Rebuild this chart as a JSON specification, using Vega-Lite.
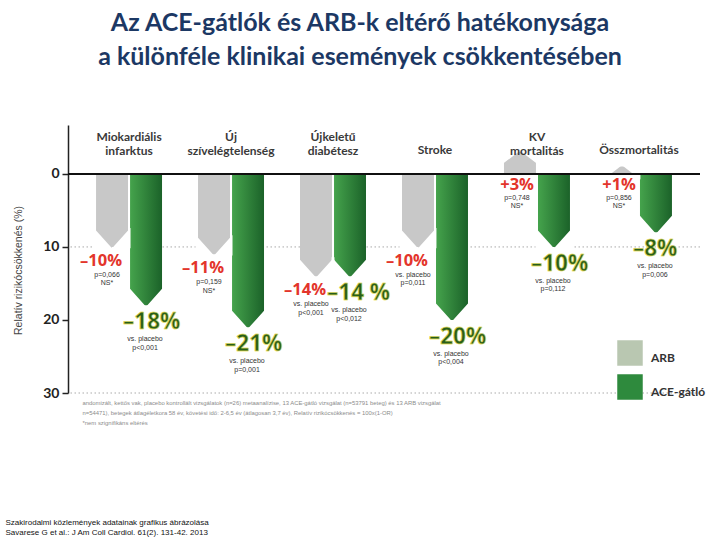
{
  "$schema": "https://vega.github.io/schema/vega-lite/v6.json",
  "width": 632,
  "height": 268,
  "autosize": {"type": "none"},
  "padding": {"left": 68, "top": 125, "right": 20, "bottom": 147},
  "background": "#ffffff",
  "title": {
    "text": ["Az ACE-gátlók és ARB-k eltérő hatékonysága", "a különféle klinikai események csökkentésében"],
    "font": "Lato",
    "fontSize": 25,
    "fontWeight": "bold",
    "color": "#1c3864",
    "lineHeight": 34,
    "anchor": "middle",
    "frame": "group",
    "dx": -24,
    "offset": 55
  },
  "data": {
    "values": [
      {"cat": "Miokardiális\ninfarktus", "series": "ARB", "value": 10, "label": "–10%", "note": "p=0,066\nNS*"},
      {"cat": "Miokardiális\ninfarktus", "series": "ACE-gátló", "value": 18, "label": "–18%", "note": "vs. placebo\np<0,001"},
      {"cat": "Új\nszívelégtelenség", "series": "ARB", "value": 11, "label": "–11%", "note": "p=0,159\nNS*"},
      {"cat": "Új\nszívelégtelenség", "series": "ACE-gátló", "value": 21, "label": "–21%", "note": "vs. placebo\np=0,001"},
      {"cat": "Újkeletű\ndiabétesz", "series": "ARB", "value": 14, "label": "–14%", "note": "vs. placebo\np<0,001"},
      {"cat": "Újkeletű\ndiabétesz", "series": "ACE-gátló", "value": 14, "label": "–14 %", "note": "vs. placebo\np<0,012"},
      {"cat": "Stroke", "series": "ARB", "value": 10, "label": "–10%", "note": "vs. placebo\np=0,011"},
      {"cat": "Stroke", "series": "ACE-gátló", "value": 20, "label": "–20%", "note": "vs. placebo\np<0,004"},
      {"cat": "KV\nmortalitás", "series": "ARB", "value": -3, "label": "+3%", "note": "p=0,748\nNS*"},
      {"cat": "KV\nmortalitás", "series": "ACE-gátló", "value": 10, "label": "–10%", "note": "vs. placebo\np=0,112"},
      {"cat": "Összmortalitás", "series": "ARB", "value": -1, "label": "+1%", "note": "p=0,856\nNS*"},
      {"cat": "Összmortalitás", "series": "ACE-gátló", "value": 8, "label": "–8%", "note": "vs. placebo\np=0,006"}
    ]
  },
  "layer": [
    {
      "data": {"values": [{"g": 10}, {"g": 30}]},
      "mark": {"type": "rule", "color": "#aaaaaa", "strokeDash": [1.5, 2.5], "strokeWidth": 1},
      "encoding": {
        "y": {
          "field": "g", "type": "quantitative",
          "scale": {"domain": [-6.7, 30], "reverse": true, "nice": false, "zero": false},
          "axis": {
            "values": [0, 10, 20, 30],
            "title": "Relatív rizikócsökkenés (%)",
            "titleFont": "Liberation Sans", "titleFontSize": 10.5, "titleFontWeight": "normal", "titleColor": "#444444",
            "titleX": -45, "titleY": 145, "titleAngle": -90, "titleBaseline": "bottom",
            "labelFont": "Lato", "labelFontSize": 14, "labelFontWeight": "bold", "labelColor": "#222222", "labelPadding": 3,
            "tickSize": 6, "tickColor": "#222222", "tickWidth": 1.5,
            "domainColor": "#222222", "domainWidth": 1.5, "grid": false
          }
        }
      }
    },
    {
      "transform": [{"filter": "datum.series === 'ARB'"}],
      "mark": {"type": "bar", "fill": "#c8c8c8"},
      "encoding": {
        "x": {
          "field": "cat", "type": "nominal",
          "sort": ["Miokardiális\ninfarktus", "Új\nszívelégtelenség", "Újkeletű\ndiabétesz", "Stroke", "KV\nmortalitás", "Összmortalitás"],
          "scale": {"paddingInner": 0.353, "paddingOuter": 0.275},
          "axis": {
            "orient": "bottom", "labels": false, "ticks": false, "domain": false, "grid": false,
            "title": ["andomizált, kettős vak, placebo kontrollált vizsgálatok (n=26) metaanalízise, 13 ACE-gátló vizsgálat (n=53791 beteg) és 13 ARB vizsgálat", "n=54471), betegek átlagéletkora 58 év, követési idő: 2-6,5 év (átlagosan 3,7 év), Relatív rizikócsökkenés = 100x(1-OR)", "*nem szignifikáns eltérés"],
            "titleFont": "Liberation Sans", "titleFontSize": 5.9, "titleFontWeight": "normal", "titleColor": "#8c8c8c",
            "titleAlign": "left", "titleAnchor": "start", "titleBaseline": "top", "titleX": 14, "titleY": 6, "titleLineHeight": 10
          }
        },
        "xOffset": {"field": "series", "type": "nominal", "sort": ["ARB", "ACE-gátló"], "scale": {"domain": ["ARB", "ACE-gátló"], "paddingInner": 0.06}},
        "y": {"field": "value", "type": "quantitative"},
        "y2": {"datum": 0}
      }
    },
    {
      "transform": [{"filter": "datum.series === 'ACE-gátló'"}],
      "mark": {
        "type": "bar",
        "fill": {"gradient": "linear", "x1": 0, "x2": 1, "y1": 0, "y2": 0,
          "stops": [{"offset": 0, "color": "#45a34c"}, {"offset": 1, "color": "#1b6229"}]}
      },
      "encoding": {
        "x": {"field": "cat", "type": "nominal", "sort": ["Miokardiális\ninfarktus", "Új\nszívelégtelenség", "Újkeletű\ndiabétesz", "Stroke", "KV\nmortalitás", "Összmortalitás"], "axis": null},
        "xOffset": {"field": "series", "type": "nominal", "sort": ["ARB", "ACE-gátló"]},
        "y": {"field": "value", "type": "quantitative"},
        "y2": {"datum": 0}
      }
    },
    {
      "mark": {"type": "square", "opacity": 0, "filled": true},
      "encoding": {
        "x": {"field": "cat", "type": "nominal", "sort": ["Miokardiális\ninfarktus", "Új\nszívelégtelenség", "Újkeletű\ndiabétesz", "Stroke", "KV\nmortalitás", "Összmortalitás"], "axis": null},
        "xOffset": {"field": "series", "type": "nominal", "sort": ["ARB", "ACE-gátló"]},
        "y": {"field": "value", "type": "quantitative"},
        "color": {
          "field": "series", "type": "nominal",
          "scale": {"domain": ["ARB", "ACE-gátló"], "range": ["#b9c7b1", "#2e8a3d"]},
          "legend": {
            "orient": "none", "legendX": 549, "legendY": 215, "title": null,
            "symbolType": "square", "symbolSize": 650, "symbolOpacity": 1, "symbolStrokeWidth": 0,
            "labelFont": "Lato", "labelFontSize": 12, "labelFontWeight": "bold", "labelColor": "#333333",
            "labelOffset": 8, "rowPadding": 8, "labelBaseline": "top"
          }
        }
      }
    },
    {
      "transform": [{"filter": "datum.value > 0"}],
      "mark": {"type": "point", "shape": "M-1.15,0.08L0,0.08L-1.15,-1.2ZM1.15,0.08L0,0.08L1.15,-1.2Z", "size": 1030, "filled": true, "fill": "#ffffff", "strokeWidth": 0, "opacity": 1},
      "encoding": {
        "x": {"field": "cat", "type": "nominal", "sort": ["Miokardiális\ninfarktus", "Új\nszívelégtelenség", "Újkeletű\ndiabétesz", "Stroke", "KV\nmortalitás", "Összmortalitás"], "axis": null},
        "xOffset": {"field": "series", "type": "nominal", "sort": ["ARB", "ACE-gátló"]},
        "y": {"field": "value", "type": "quantitative"}
      }
    },
    {
      "transform": [{"filter": "datum.value < 0"}],
      "mark": {"type": "point", "shape": "M-1.15,-0.08L0,-0.08L-1.15,0.8ZM1.15,-0.08L0,-0.08L1.15,0.8Z", "size": 1030, "filled": true, "fill": "#ffffff", "strokeWidth": 0, "opacity": 1},
      "encoding": {
        "x": {"field": "cat", "type": "nominal", "sort": ["Miokardiális\ninfarktus", "Új\nszívelégtelenség", "Újkeletű\ndiabétesz", "Stroke", "KV\nmortalitás", "Összmortalitás"], "axis": null},
        "xOffset": {"field": "series", "type": "nominal", "sort": ["ARB", "ACE-gátló"]},
        "y": {"field": "value", "type": "quantitative"}
      }
    },
    {
      "mark": {"type": "rule", "color": "#111111", "strokeWidth": 1.5},
      "encoding": {
        "y": {"datum": 0, "type": "quantitative"}
      }
    },
    {
      "transform": [{"filter": "datum.series === 'ARB' && datum.value > 0"}],
      "mark": {"type": "text", "font": "Open Sans", "fontSize": 16.5, "fontWeight": "bold", "fill": "#e3352b", "align": "right", "baseline": "middle", "dx": 10, "dy": 14},
      "encoding": {
        "x": {"field": "cat", "type": "nominal", "sort": ["Miokardiális\ninfarktus", "Új\nszívelégtelenség", "Újkeletű\ndiabétesz", "Stroke", "KV\nmortalitás", "Összmortalitás"], "axis": null},
        "xOffset": {"field": "series", "type": "nominal", "sort": ["ARB", "ACE-gátló"]},
        "y": {"field": "value", "type": "quantitative"},
        "text": {"field": "label"}
      }
    },
    {
      "transform": [{"filter": "datum.series === 'ARB' && datum.value < 0"}],
      "mark": {"type": "text", "font": "Open Sans", "fontSize": 16.5, "fontWeight": "bold", "fill": "#e3352b", "align": "right", "baseline": "middle", "dx": 14, "dy": 11},
      "encoding": {
        "x": {"field": "cat", "type": "nominal", "sort": ["Miokardiális\ninfarktus", "Új\nszívelégtelenség", "Újkeletű\ndiabétesz", "Stroke", "KV\nmortalitás", "Összmortalitás"], "axis": null},
        "xOffset": {"field": "series", "type": "nominal", "sort": ["ARB", "ACE-gátló"]},
        "y": {"datum": 0, "type": "quantitative"},
        "text": {"field": "label"}
      }
    },
    {
      "transform": [{"filter": "datum.series === 'ARB' && datum.value > 0"}],
      "mark": {"type": "text", "font": "Liberation Sans", "fontSize": 7, "fill": "#333333", "align": "center", "baseline": "top", "lineBreak": "\n", "lineHeight": 8.5, "dx": -5, "dy": 24},
      "encoding": {
        "x": {"field": "cat", "type": "nominal", "sort": ["Miokardiális\ninfarktus", "Új\nszívelégtelenség", "Újkeletű\ndiabétesz", "Stroke", "KV\nmortalitás", "Összmortalitás"], "axis": null},
        "xOffset": {"field": "series", "type": "nominal", "sort": ["ARB", "ACE-gátló"]},
        "y": {"field": "value", "type": "quantitative"},
        "text": {"field": "note"}
      }
    },
    {
      "transform": [{"filter": "datum.series === 'ARB' && datum.value < 0"}],
      "mark": {"type": "text", "font": "Liberation Sans", "fontSize": 7, "fill": "#333333", "align": "center", "baseline": "top", "lineBreak": "\n", "lineHeight": 8.5, "dx": -3, "dy": 20},
      "encoding": {
        "x": {"field": "cat", "type": "nominal", "sort": ["Miokardiális\ninfarktus", "Új\nszívelégtelenség", "Újkeletű\ndiabétesz", "Stroke", "KV\nmortalitás", "Összmortalitás"], "axis": null},
        "xOffset": {"field": "series", "type": "nominal", "sort": ["ARB", "ACE-gátló"]},
        "y": {"datum": 0, "type": "quantitative"},
        "text": {"field": "note"}
      }
    },
    {
      "transform": [{"filter": "datum.series === 'ACE-gátló'"}],
      "mark": {"type": "text", "font": "Open Sans", "fontSize": 22.5, "fontWeight": "bold", "fill": "#285e1b", "stroke": "#e8de50", "strokeWidth": 0.9, "strokeOpacity": 0.75, "strokeJoin": "round", "align": "left", "baseline": "middle", "dx": -23, "dy": 17},
      "encoding": {
        "x": {"field": "cat", "type": "nominal", "sort": ["Miokardiális\ninfarktus", "Új\nszívelégtelenség", "Újkeletű\ndiabétesz", "Stroke", "KV\nmortalitás", "Összmortalitás"], "axis": null},
        "xOffset": {"field": "series", "type": "nominal", "sort": ["ARB", "ACE-gátló"]},
        "y": {"field": "value", "type": "quantitative"},
        "text": {"field": "label"}
      }
    },
    {
      "transform": [{"filter": "datum.series === 'ACE-gátló'"}],
      "mark": {"type": "text", "font": "Liberation Sans", "fontSize": 7, "fill": "#333333", "align": "center", "baseline": "top", "lineBreak": "\n", "lineHeight": 8.5, "dx": -1, "dy": 30},
      "encoding": {
        "x": {"field": "cat", "type": "nominal", "sort": ["Miokardiális\ninfarktus", "Új\nszívelégtelenség", "Újkeletű\ndiabétesz", "Stroke", "KV\nmortalitás", "Összmortalitás"], "axis": null},
        "xOffset": {"field": "series", "type": "nominal", "sort": ["ARB", "ACE-gátló"]},
        "y": {"field": "value", "type": "quantitative"},
        "text": {"field": "note"}
      }
    },
    {
      "transform": [{"filter": "datum.series === 'ARB' && indexof(datum.cat, '\\n') >= 0"}],
      "mark": {"type": "text", "font": "Lato", "fontSize": 12, "fontWeight": "bold", "fill": "#3a3a3a", "align": "center", "baseline": "bottom", "lineBreak": "\n", "lineHeight": 14},
      "encoding": {
        "x": {
          "field": "cat", "type": "nominal",
          "sort": ["Miokardiális\ninfarktus", "Új\nszívelégtelenség", "Újkeletű\ndiabétesz", "Stroke", "KV\nmortalitás", "Összmortalitás"],
          "axis": {
            "orient": "bottom", "labels": false, "ticks": false, "domain": false, "grid": false,
            "title": ["Szakirodalmi közlemények adatainak grafikus ábrázolása", "Savarese G et al.: J Am Coll Cardiol. 61(2). 131-42. 2013"],
            "titleFont": "Liberation Sans", "titleFontSize": 8, "titleFontWeight": "normal", "titleColor": "#111111",
            "titleAlign": "left", "titleAnchor": "start", "titleBaseline": "top", "titleX": -63, "titleY": 125, "titleLineHeight": 10.3
          }
        },
        "y": {"datum": -4.1, "type": "quantitative"},
        "text": {"field": "cat"}
      }
    },
    {
      "transform": [{"filter": "datum.series === 'ARB' && indexof(datum.cat, '\\n') < 0"}],
      "mark": {"type": "text", "font": "Lato", "fontSize": 12, "fontWeight": "bold", "fill": "#3a3a3a", "align": "center", "baseline": "bottom"},
      "encoding": {
        "x": {"field": "cat", "type": "nominal", "sort": ["Miokardiális\ninfarktus", "Új\nszívelégtelenség", "Újkeletű\ndiabétesz", "Stroke", "KV\nmortalitás", "Összmortalitás"], "axis": null},
        "y": {"datum": -2.25, "type": "quantitative"},
        "text": {"field": "cat"}
      }
    }
  ],
  "resolve": {"axis": {"x": "independent"}},
  "config": {"view": {"stroke": null}}
}
